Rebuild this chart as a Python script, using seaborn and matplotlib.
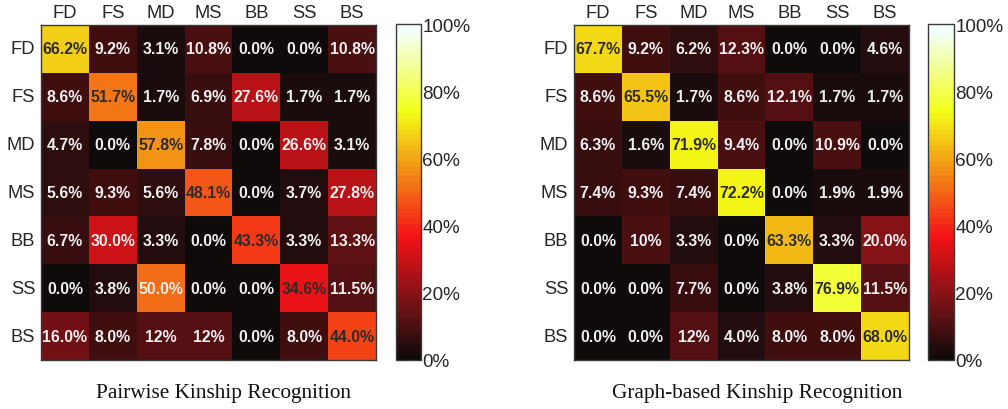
import numpy as np
import pandas as pd
import matplotlib
matplotlib.use("Agg")
import matplotlib.pyplot as plt
from matplotlib.colors import ListedColormap
import seaborn as sns

classes = ["FD", "FS", "MD", "MS", "BB", "SS", "BS"]

pairwise_labels = [
    ["66.2%", "9.2%", "3.1%", "10.8%", "0.0%", "0.0%", "10.8%"],
    ["8.6%", "51.7%", "1.7%", "6.9%", "27.6%", "1.7%", "1.7%"],
    ["4.7%", "0.0%", "57.8%", "7.8%", "0.0%", "26.6%", "3.1%"],
    ["5.6%", "9.3%", "5.6%", "48.1%", "0.0%", "3.7%", "27.8%"],
    ["6.7%", "30.0%", "3.3%", "0.0%", "43.3%", "3.3%", "13.3%"],
    ["0.0%", "3.8%", "50.0%", "0.0%", "0.0%", "34.6%", "11.5%"],
    ["16.0%", "8.0%", "12%", "12%", "0.0%", "8.0%", "44.0%"],
]

graph_labels = [
    ["67.7%", "9.2%", "6.2%", "12.3%", "0.0%", "0.0%", "4.6%"],
    ["8.6%", "65.5%", "1.7%", "8.6%", "12.1%", "1.7%", "1.7%"],
    ["6.3%", "1.6%", "71.9%", "9.4%", "0.0%", "10.9%", "0.0%"],
    ["7.4%", "9.3%", "7.4%", "72.2%", "0.0%", "1.9%", "1.9%"],
    ["0.0%", "10%", "3.3%", "0.0%", "63.3%", "3.3%", "20.0%"],
    ["0.0%", "0.0%", "7.7%", "0.0%", "3.8%", "76.9%", "11.5%"],
    ["0.0%", "0.0%", "12%", "4.0%", "8.0%", "8.0%", "68.0%"],
]

titles = ["Pairwise Kinship Recognition", "Graph-based Kinship Recognition"]
cbar_ticks = [0, 20, 40, 60, 80, 100]

# MATLAB-like 'hot' colormap with 64 levels, slightly muted as in the print
base = plt.get_cmap("hot")(np.linspace(0, 1, 64))[:, :3]
muted = np.empty_like(base)
muted[:, 0] = base[:, 0] * 0.93 + 6 / 255
muted[:, 1] = base[:, 1] * 0.93 + 10 / 255 + 8 / 255 * np.clip(base[:, 0] * 2, 0, 1)
muted[:, 2] = base[:, 2] * 0.95 + 10 / 255 + 12 / 255 * np.clip(base[:, 0] * 2, 0, 1)
cmap = ListedColormap(np.clip(muted, 0, 1))

sns.set_style("white")
plt.rcParams["font.family"] = ["Liberation Sans", "DejaVu Sans"]

W, H = 1008, 410
fig = plt.figure(figsize=(W / 100, H / 100), dpi=100)

def fx(px):
    return px / W

def fy(top, bottom):
    return (H - bottom) / H, (bottom - top) / H

panels = [
    dict(labels=pairwise_labels, hm=(41, 376), cb=(396, 421), title_x=223),
    dict(labels=graph_labels, hm=(574, 909), cb=(928, 954), title_x=757),
]

for p, title in zip(panels, titles):
    b, h = fy(26, 361)
    ax = fig.add_axes([fx(p["hm"][0]), b, fx(p["hm"][1] - p["hm"][0]), h])
    cb_b, cb_h = fy(25, 361)
    cax = fig.add_axes([fx(p["cb"][0]), cb_b, fx(p["cb"][1] - p["cb"][0]), cb_h])

    labels = np.array(p["labels"])
    values = np.vectorize(lambda s: float(s.rstrip("%")))(labels)
    df = pd.DataFrame(values, index=classes, columns=classes)

    sns.heatmap(df, ax=ax, cbar_ax=cax, cmap=cmap, vmin=0, vmax=100,
                annot=labels, fmt="",
                annot_kws=dict(fontsize=11.4, fontweight="bold"),
                cbar_kws=dict(ticks=cbar_ticks))

    for t in ax.texts:
        x, y = t.get_position()
        r, c = int(y), int(x)
        t.set_color("#2b2b2b" if r == c else "#f0f0f0")

    ax.xaxis.tick_top()
    ax.tick_params(axis="both", labelsize=13.2, colors="#262626", length=2,
                   width=0.8, pad=2)
    ax.tick_params(axis="x", length=0, pad=3)
    ax.set_xticklabels(classes, rotation=0)
    ax.set_yticklabels(classes, rotation=0)
    ax.set_xlabel("")
    ax.set_ylabel("")
    for s in ax.spines.values():
        s.set_visible(True)
        s.set_color("#3a3a3a")
        s.set_linewidth(1.0)

    cbar = ax.collections[0].colorbar
    cbar.set_ticks(cbar_ticks)
    cbar.set_ticklabels([f"{v}%" for v in cbar_ticks])
    cbar.outline.set_visible(True)
    cbar.outline.set_edgecolor("#3a3a3a")
    cbar.outline.set_linewidth(1.0)
    cax.tick_params(labelsize=13.6, colors="#262626", direction="in",
                    length=3, width=0.8, left=True, right=True, pad=1)

    fig.text(fx(p["title_x"]), (H - 398) / H, title, ha="center",
             va="baseline", fontsize=15.3, family="Liberation Serif",
             color="#111111")

fig.savefig("out.png", dpi=100)
